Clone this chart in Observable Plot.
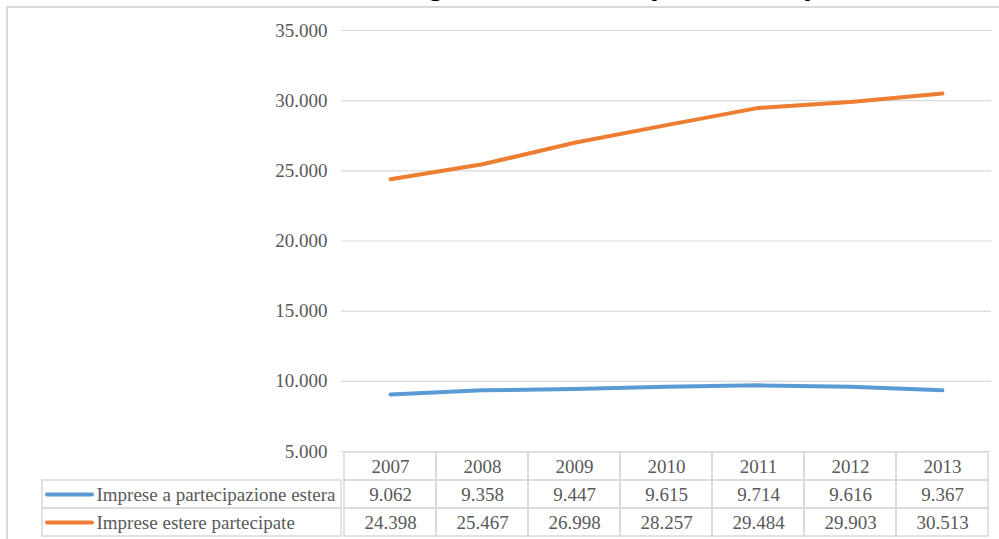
<!DOCTYPE html>
<html>
<head>
<meta charset="utf-8">
<script src="https://cdn.jsdelivr.net/npm/d3@7"></script>
<script src="https://cdn.jsdelivr.net/npm/@observablehq/plot@0.6"></script>
<style>
  html, body { margin: 0; padding: 0; background: #fff; }
  #chart { position: relative; width: 999px; height: 539px; overflow: hidden; background: #fff; }
  #frame { position: absolute; left: 6px; top: 6px; width: 1100px; height: 700px; border: 2px solid #d9d9d9; box-sizing: border-box; }
  #title { position: absolute; left: 0; top: -32px; width: 1026px; text-align: center;
           font: bold 31px/31px "Liberation Sans", Arial, sans-serif; color: #000; white-space: nowrap; }
  #lines, #table { position: absolute; left: 0; }
  #lines { top: 0; }
  #table { top: 451px; }
</style>
</head>
<body>
<div id="chart">
  <div id="frame"></div>
  <div id="title">Andamento degli IDE in Italia (2007-2013)</div>
  <div id="lines"></div>
  <div id="table"></div>
</div>
<script>
// Anni e serie (numero di imprese)
const years = [2007, 2008, 2009, 2010, 2011, 2012, 2013];
const seriesNames = ["Imprese a partecipazione estera", "Imprese estere partecipate"];
const seriesColors = ["#5b9bd5", "#ed7d31"];
const partecipazioneEstera = [9062, 9358, 9447, 9615, 9714, 9616, 9367];
const estereParticipate = [24398, 25467, 26998, 28257, 29484, 29903, 30513];
const yTicks = [5000, 10000, 15000, 20000, 25000, 30000, 35000];

// Separatore delle migliaia all'italiana: 35.000
const fmt = n => d3.format(",")(n).replace(/,/g, ".");

const seriesValues = [partecipazioneEstera, estereParticipate];
const rows = seriesNames.flatMap((name, i) =>
  years.map((year, j) => ({ series: name, year, value: seriesValues[i][j] })));

const color = { domain: seriesNames, range: seriesColors };
const baseStyle = {
  fontFamily: "'Liberation Serif', 'Times New Roman', serif",
  fontSize: "19px",
  color: "#595959",
  background: "transparent",
  overflow: "visible"
};

// Grafico a linee
const lines = Plot.plot({
  width: 999,
  height: 470,
  marginLeft: 341,
  marginRight: 8,
  marginTop: 30,
  marginBottom: 19,
  style: baseStyle,
  x: { type: "band", domain: years, padding: 0, axis: null },
  y: { domain: [5000, 35000], axis: null },
  color,
  marks: [
    Plot.ruleY(yTicks, { stroke: "#d9d9d9", strokeWidth: 1.2 }),
    Plot.axisY(yTicks, { tickSize: 0, tickPadding: 14, tickFormat: fmt, fontSize: 19, label: null }),
    Plot.line(rows, {
      x: "year", y: "value", z: "series", stroke: "series",
      strokeWidth: 4, strokeLinecap: "round", strokeLinejoin: "round"
    })
  ]
});
document.getElementById("lines").appendChild(lines);

// Tabella dei dati sotto il grafico
const headerCells = years.map(year => ({ year, row: "anno", label: String(year) }));
const valueCells = rows.map(d => ({ year: d.year, row: d.series, label: fmt(d.value) }));
const seriesRows = seriesNames.map(name => ({ row: name, name }));

const table = Plot.plot({
  width: 999,
  height: 87,
  marginLeft: 341,
  marginRight: 8,
  marginTop: 0,
  marginBottom: 1,
  style: baseStyle,
  x: { type: "band", domain: years, padding: 0, axis: null },
  y: { type: "band", domain: ["anno", ...seriesNames], padding: 0, axis: null },
  color,
  marks: [
    Plot.cell([...headerCells, ...valueCells], { x: "year", y: "row", fill: "none", stroke: "#d9d9d9", strokeWidth: 1.5 }),
    Plot.cell(seriesRows, { y: "row", fill: "none", stroke: "#d9d9d9", strokeWidth: 1.5, insetLeft: -299, insetRight: 650 }),
    Plot.text([...headerCells, ...valueCells], { x: "year", y: "row", text: "label", fontSize: 19 }),
    Plot.ruleY(seriesRows, { y: "row", stroke: "name", strokeWidth: 4, strokeLinecap: "round", insetLeft: -294, insetRight: 899 }),
    Plot.text(seriesRows, { y: "row", text: "name", frameAnchor: "left", dx: -245, textAnchor: "start", fontSize: 19 })
  ]
});
document.getElementById("table").appendChild(table);
</script>
</body>
</html>
